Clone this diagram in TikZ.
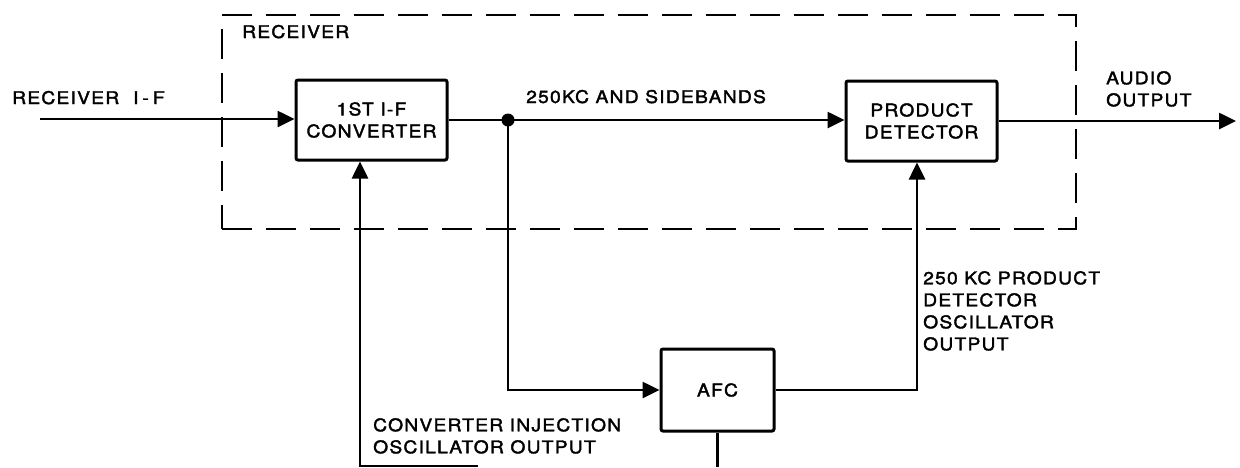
\documentclass[tikz,border=0pt]{standalone}
\usepackage{fontspec}
\setmainfont{TeX Gyre Heros}[FakeStretch=1.1, LetterSpace=7, FakeBold=2]
\usetikzlibrary{arrows.meta}
\newcommand\lettering{\fontsize{17.5}{22}\selectfont}
\begin{document}
\begin{tikzpicture}[x=1pt,y=-1pt,
  wire/.style={line width=2.6pt},
  sig/.style={line width=2.6pt, -{Triangle[length=17pt,width=16pt]}},
  blk/.style={draw, line width=3pt, rounded corners=2pt, minimum width=151pt,
    minimum height=80pt, align=center, inner sep=0pt, font=\lettering},
  lbl/.style={inner sep=0pt, align=left, font=\lettering},
  dashbox/.style={draw, line width=2.2pt, dash pattern=on 30pt off 14pt,
    minimum width=854pt, minimum height=214pt, inner sep=0pt},
]
\useasboundingbox[fill=white] (0,0) rectangle (1240,467);

% receiver outline
\node[dashbox] (rx) at (649,122) {};
\node[lbl, anchor=base west] (rcv) at (242,38) {RECEIVER};

% blocks
\node[blk] (conv) at (371.5,120) {1ST I-F\\CONVERTER};
\node[blk] (prod) at (921.5,121) {PRODUCT\\DETECTOR};
\node[blk, minimum width=113pt, minimum height=82pt] (afc) at (717.5,390) {AFC};

% coordinates
\coordinate (in) at (40,119);
\coordinate (out) at (1236,122);
\coordinate (j) at (508,120);
\coordinate (injb) at (360,467);
\coordinate (afcb) at (717.5,467);
\coordinate (pdt) at (917,0);
\coordinate (bs) at (478,466);

% connectors
\draw[sig] (in) -- (in -| conv.west);
\draw[wire] (conv.east) -- (j);
\draw[sig] (j) -- (j -| prod.west);
\fill (j) circle (6.5pt);
\draw[sig] (j) |- (afc.west);
\draw[sig] (prod.east) -- (prod.east -| out);
\draw[sig] (injb) -- (injb |- conv.south);
\draw[sig] (afc.east) -| (pdt |- prod.south);
\draw[wire] (afc.south) -- (afcb);
\draw[line width=1.6pt] (injb |- bs) -- (bs);

% labels
\node[lbl, anchor=base west] (rif) at (12,104) {RECEIVER\hspace{14pt}I\hspace{4pt}-\hspace{4pt}F};
\node[lbl, anchor=base west] (sb) at (526,103) {250KC AND SIDEBANDS};
\node[lbl, anchor=north west] (ao) at (1106,71) {AUDIO\\OUTPUT};
\node[lbl, anchor=north west] (pdo) at (923,271) {250 KC PRODUCT\\DETECTOR\\OSCILLATOR\\OUTPUT};
\node[lbl, anchor=north west] (cio) at (373,418) {CONVERTER INJECTION\\OSCILLATOR OUTPUT};
\end{tikzpicture}
\end{document}
